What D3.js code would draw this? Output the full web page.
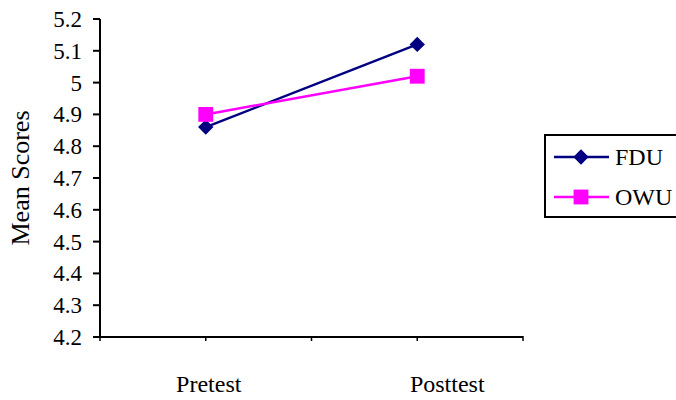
<!DOCTYPE html>
<html><head><meta charset="utf-8">
<script src="https://cdn.jsdelivr.net/npm/d3@7"></script>
</head><body style="margin:0;background:#fff">
<script>
const categories = ["Pretest", "Posttest"];
const seriesNames = ["FDU", "OWU"];
const fduValues = [4.86, 5.12];
const owuValues = [4.90, 5.02];
const yTicks = ["4.2", "4.3", "4.4", "4.5", "4.6", "4.7", "4.8", "4.9", "5", "5.1", "5.2"];

const FONT = "Times New Roman, Liberation Serif, serif";
const W = 676, H = 400;
const svg = d3.select("body").append("svg").attr("width", W).attr("height", H);

const x0 = 100, x1 = 523, yTop = 19, yBot = 337;
const x = d3.scalePoint().domain(categories).range([x0, x1]).padding(0.5);
const y = d3.scaleLinear().domain([4.2, 5.2]).range([yBot, yTop]);

function txt(sel, size) {
  return sel.attr("font-family", FONT).attr("font-size", size || 24).attr("fill", "#000");
}

// y axis
const ya = svg.append("g");
ya.append("line").attr("x1", x0).attr("x2", x0).attr("y1", yTop).attr("y2", yBot)
  .attr("stroke", "#000").attr("stroke-width", 2);
ya.selectAll("line.t").data(yTicks).join("line").attr("class", "t")
  .attr("x1", x0 - 7).attr("x2", x0).attr("y1", d => y(+d)).attr("y2", d => y(+d))
  .attr("stroke", "#000").attr("stroke-width", 2);
ya.selectAll("text").data(yTicks).join("text")
  .attr("x", x0 - 18).attr("y", d => y(+d) + 8).attr("text-anchor", "end")
  .call(txt, 23).text(d => d);

// x axis
const xTickPos = d3.range(5).map(i => x0 + i * (x1 - x0) / 4);
const xa = svg.append("g");
xa.append("line").attr("x1", x0 - 7).attr("x2", x1).attr("y1", yBot).attr("y2", yBot)
  .attr("stroke", "#000").attr("stroke-width", 2);
xa.selectAll("line.t").data(xTickPos).join("line").attr("class", "t")
  .attr("x1", d => d).attr("x2", d => d).attr("y1", yBot - 1).attr("y2", yBot + 4)
  .attr("stroke", "#000").attr("stroke-width", 1.5);
xa.selectAll("text").data(categories).join("text")
  .attr("x", (d, i) => x(d) + (i === 0 ? 3 : 30))
  .attr("y", 392).attr("text-anchor", "middle")
  .call(txt, 24).text(d => d);

// y title
svg.append("text").attr("transform", "translate(29,178) rotate(-90)")
  .attr("text-anchor", "middle").call(txt, 26).text("Mean Scores");

const series = [
  {name: seriesNames[0], values: fduValues, color: "#000080", diamond: true},
  {name: seriesNames[1], values: owuValues, color: "#FF00FF", diamond: false}
];
const line = d3.line().x((d, i) => x(categories[i])).y(d => y(d));

series.forEach(s => {
  svg.append("path").datum(s.values).attr("d", line).attr("fill", "none")
    .attr("stroke", s.color).attr("stroke-width", 2.5);
});
function sym(s) { return d3.symbol().type(d3.symbolSquare).size(s.diamond ? 118 : 220)(); }
series.forEach(s => {
  svg.selectAll(null).data(s.values).join("path")
    .attr("d", sym(s))
    .attr("transform", (d, i) => `translate(${x(categories[i])},${y(d)})` + (s.diamond ? " rotate(45)" : ""))
    .attr("fill", s.color);
});

// legend
const lg = svg.append("g");
lg.append("rect").attr("x", 545).attr("y", 135).attr("width", 150).attr("height", 82)
  .attr("fill", "#fff").attr("stroke", "#000").attr("stroke-width", 2);
series.forEach((s, i) => {
  const cy = 157 + i * 40;
  lg.append("line").attr("x1", 554).attr("x2", 609).attr("y1", cy).attr("y2", cy)
    .attr("stroke", s.color).attr("stroke-width", 2.5);
  lg.append("path").attr("d", sym(s))
    .attr("transform", `translate(581,${cy})` + (s.diamond ? " rotate(45)" : ""))
    .attr("fill", s.color);
  lg.append("text").attr("x", 615).attr("y", cy + 8).call(txt, 24).text(s.name);
});
</script>
</body></html>
